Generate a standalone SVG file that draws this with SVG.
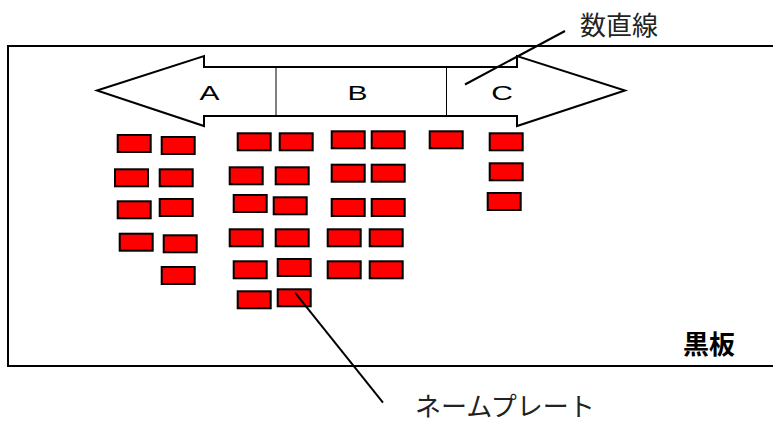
<svg xmlns="http://www.w3.org/2000/svg" width="773" height="422" viewBox="0 0 773 422">
<style>
.plate{fill:#ff0000;stroke:#000;stroke-width:2}
.line{stroke:#000;stroke-width:2;fill:none}
.thin{stroke:#000;stroke-width:1;fill:none}
.lbl{font-family:"Liberation Sans",Arial,sans-serif;font-size:20px;fill:#000;text-anchor:middle}
.jp{font-family:"Noto Sans CJK JP","Noto Sans CJK SC",sans-serif;font-size:26px;fill:#222}
.jpb{font-family:"Noto Sans CJK JP","Noto Sans CJK SC",sans-serif;font-size:26px;font-weight:bold;fill:#000}
</style>
<rect width="773" height="422" fill="#fff"/>
<g id="board">
<rect x="8" y="46" width="790" height="320" class="line"/>
<text x="683" y="354" class="jpb">黒板</text>
</g>
<g id="numberline">
<polygon points="97,90.5 204,56 204,67 517,67 517,56 625,90.5 517,126 517,116 204,116 204,126" fill="#fff" class="line"/>
<line x1="276" y1="67" x2="276" y2="116" class="thin"/>
<line x1="446.5" y1="67" x2="446.5" y2="116" class="thin"/>
<text transform="translate(209.5,99.5) scale(1.5,1)" class="lbl">A</text>
<text transform="translate(357.5,99.5) scale(1.5,1)" class="lbl">B</text>
<text transform="translate(502,99.5) scale(1.5,1)" class="lbl">C</text>
</g>
<g id="plates">
<rect x="117.7" y="135" width="33" height="17" class="plate"/>
<rect x="115" y="169.3" width="33" height="17" class="plate"/>
<rect x="117.7" y="201.3" width="33" height="17" class="plate"/>
<rect x="119.7" y="233.7" width="33" height="17" class="plate"/>
<rect x="161.7" y="137" width="33" height="17" class="plate"/>
<rect x="159.7" y="169.3" width="33" height="17" class="plate"/>
<rect x="159.7" y="199" width="33" height="17" class="plate"/>
<rect x="163.7" y="235.3" width="33" height="17" class="plate"/>
<rect x="161.7" y="267" width="33" height="17" class="plate"/>
<rect x="237.7" y="133.3" width="33" height="17" class="plate"/>
<rect x="229.7" y="167.3" width="33" height="17" class="plate"/>
<rect x="233.7" y="195" width="33" height="17" class="plate"/>
<rect x="229.7" y="229.3" width="33" height="17" class="plate"/>
<rect x="233.7" y="261.3" width="33" height="17" class="plate"/>
<rect x="237.7" y="291.3" width="33" height="17" class="plate"/>
<rect x="279.7" y="133.3" width="33" height="17" class="plate"/>
<rect x="275.7" y="167.3" width="33" height="17" class="plate"/>
<rect x="273.7" y="197.3" width="33" height="17" class="plate"/>
<rect x="275.7" y="229.3" width="33" height="17" class="plate"/>
<rect x="277.7" y="259" width="33" height="17" class="plate"/>
<rect x="277.7" y="289.3" width="33" height="17" class="plate"/>
<rect x="331.7" y="131.3" width="33" height="17" class="plate"/>
<rect x="331.7" y="164.7" width="33" height="17" class="plate"/>
<rect x="331.7" y="199" width="33" height="17" class="plate"/>
<rect x="327.7" y="229.3" width="33" height="17" class="plate"/>
<rect x="327.7" y="261.3" width="33" height="17" class="plate"/>
<rect x="371.7" y="131.3" width="33" height="17" class="plate"/>
<rect x="371.7" y="164.7" width="33" height="17" class="plate"/>
<rect x="371.7" y="199" width="33" height="17" class="plate"/>
<rect x="369.7" y="229.3" width="33" height="17" class="plate"/>
<rect x="369.7" y="261.3" width="33" height="17" class="plate"/>
<rect x="429.7" y="131.3" width="33" height="17" class="plate"/>
<rect x="489.7" y="133.3" width="33" height="17" class="plate"/>
<rect x="489.7" y="163.3" width="33" height="17" class="plate"/>
<rect x="487.7" y="193" width="33" height="17" class="plate"/>
</g>
<g id="connectors">
<line x1="565" y1="31" x2="465" y2="84.5" class="line"/>
<line x1="295" y1="292.7" x2="383" y2="402.7" class="line"/>
</g>
<g id="label-numberline"><text x="580" y="35" class="jp">数直線</text></g>
<g id="label-plate"><text x="415" y="416" class="jp" font-size="25">ネームプレート</text></g>
</svg>
